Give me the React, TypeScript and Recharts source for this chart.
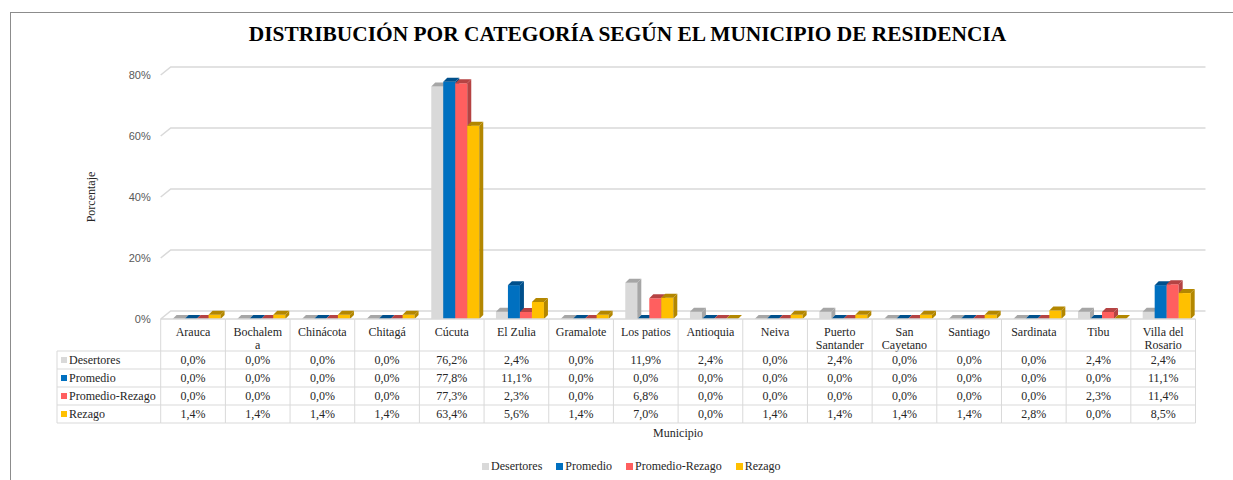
import { BarChart, Bar, XAxis, YAxis, CartesianGrid, Label } from 'recharts';

const categories = [
    'Arauca', 'Bochalema', 'Chinácota', 'Chitagá', 'Cúcuta', 'El Zulia', 'Gramalote', 'Los patios',
    'Antioquia', 'Neiva', 'Puerto Santander', 'San Cayetano', 'Santiago', 'Sardinata', 'Tibu', 'Villa del Rosario',
];

// how the header cells wrap in the table
const headerLines = [
    ['Arauca'], ['Bochalem', 'a'], ['Chinácota'], ['Chitagá'], ['Cúcuta'], ['El Zulia'], ['Gramalote'], ['Los patios'],
    ['Antioquia'], ['Neiva'], ['Puerto', 'Santander'], ['San', 'Cayetano'], ['Santiago'], ['Sardinata'], ['Tibu'], ['Villa del', 'Rosario'],
];

const desertores = [0, 0, 0, 0, 76.2, 2.4, 0, 11.9, 2.4, 0, 2.4, 0, 0, 0, 2.4, 2.4];
const promedio = [0, 0, 0, 0, 77.8, 11.1, 0, 0, 0, 0, 0, 0, 0, 0, 0, 11.1];
const promedioRezago = [0, 0, 0, 0, 77.3, 2.3, 0, 6.8, 0, 0, 0, 0, 0, 0, 2.3, 11.4];
const rezago = [1.4, 1.4, 1.4, 1.4, 63.4, 5.6, 1.4, 7.0, 0, 1.4, 1.4, 1.4, 1.4, 2.8, 0, 8.5];

const yTicks = [0, 20, 40, 60, 80];

const series = [
    { key: 'Desertores', values: desertores, fill: '#d9d9d9', dark: '#a6a6a6' },
    { key: 'Promedio', values: promedio, fill: '#0070c0', dark: '#00508c' },
    { key: 'Promedio-Rezago', values: promedioRezago, fill: '#ff5f5f', dark: '#b54343' },
    { key: 'Rezago', values: rezago, fill: '#ffc000', dark: '#b38700' },
];

const data = categories.map((name, i) => {
    const row: any = { name };
    series.forEach(s => { row[s.key] = s.values[i]; });
    return row;
});

const W = 1233;
const H = 480;
const PLOT_LEFT = 160.7;
const PLOT_RIGHT = 1195.5;
const PLOT_TOP = 75;
const PLOT_BOTTOM = 319;
const BAND = (PLOT_RIGHT - PLOT_LEFT) / categories.length;
const HEADER_H = 31;
const ROW_H = 18;
const LEGEND_LEFT = 57;
const DEPTH = 4;
const BORDER = '#d9d9d9';
const TEXT = '#262626';
const SERIF = '"Liberation Serif", "Times New Roman", serif';

const fmt = (v: number) => v.toFixed(1).replace('.', ',') + '%';

const makeShape = (fill: string, dark: string) => (props: any) => {
    const { y, width, height } = props;
    const x = props.x + 3;
    const d = DEPTH;
    return (
        <g>
            <rect x={x} y={y} width={width} height={height} fill={fill} />
            <polygon points={`${x},${y} ${x + width},${y} ${x + width + d},${y - d} ${x + d},${y - d}`} fill={dark} />
            <polygon points={`${x + width},${y} ${x + width + d},${y - d} ${x + width + d},${y + height - d} ${x + width},${y + height}`} fill={dark} />
        </g>
    );
};

const gridLine = (props: any) => {
    const { x1, x2, y1 } = props;
    return (
        <polyline
            key={props.key}
            points={`${x1},${y1} ${x1 + 10},${y1 - 8} ${x2 + 10},${y1 - 8}`}
            fill="none"
            stroke={BORDER}
            strokeWidth={1.5}
        />
    );
};

const TableTick = (props: any) => {
    const { x, y, index } = props;
    const left = x - BAND / 2;
    const right = x + BAND / 2;
    const top = y;
    const rowsTop = top + HEADER_H + 1;
    const bottom = rowsTop + ROW_H * series.length;
    const lines = headerLines[index];
    return (
        <g fontFamily={SERIF} fontSize={12} fill={TEXT}>
            <line x1={left} y1={top} x2={left} y2={bottom} stroke={BORDER} />
            {index === categories.length - 1 && <line x1={right} y1={top} x2={right} y2={bottom} stroke={BORDER} />}
            <line x1={left} y1={top} x2={right} y2={top} stroke={BORDER} strokeWidth={1.5} />
            {lines.map((t, k) => (
                <text key={k} x={x} y={top + 17 + k * 13} textAnchor="middle">{t}</text>
            ))}
            {series.map((s, r) => (
                <g key={s.key}>
                    <line x1={left} y1={rowsTop + r * ROW_H} x2={right} y2={rowsTop + r * ROW_H} stroke={BORDER} />
                    <text x={x} y={rowsTop + r * ROW_H + 13} textAnchor="middle">{fmt(s.values[index])}</text>
                </g>
            ))}
            <line x1={left} y1={bottom} x2={right} y2={bottom} stroke={BORDER} />
            {index === 0 && (
                <g>
                    <line x1={LEGEND_LEFT} y1={rowsTop} x2={LEGEND_LEFT} y2={bottom} stroke={BORDER} />
                    {series.map((s, r) => (
                        <g key={s.key}>
                            <line x1={LEGEND_LEFT} y1={rowsTop + r * ROW_H} x2={left} y2={rowsTop + r * ROW_H} stroke={BORDER} />
                            <rect x={LEGEND_LEFT + 4} y={rowsTop + r * ROW_H + 6} width={6} height={6} fill={s.fill} />
                            <text x={LEGEND_LEFT + 12} y={rowsTop + r * ROW_H + 13}>{s.key}</text>
                        </g>
                    ))}
                    <line x1={LEGEND_LEFT} y1={bottom} x2={left} y2={bottom} stroke={BORDER} />
                </g>
            )}
        </g>
    );
};

export default function App() {
    return (
        <div style={{ position: 'absolute', left: 0, top: 0, width: W, height: H, overflow: 'hidden', background: '#fff', fontFamily: SERIF }}>
            <div style={{ position: 'absolute', left: 10, top: 12, width: W, height: H, borderLeft: '1px solid #8c8c8c', borderTop: '1px solid #8c8c8c' }} />
            <div style={{ position: 'absolute', left: 0, top: 22, width: 1255, textAlign: 'center', fontWeight: 'bold', fontSize: 21.4, color: '#000' }}>
                DISTRIBUCIÓN POR CATEGORÍA SEGÚN EL MUNICIPIO DE RESIDENCIA
            </div>
            <div style={{ position: 'absolute', left: 0, top: 0 }}>
                <BarChart
                    width={W}
                    height={H}
                    data={data}
                    margin={{ top: PLOT_TOP, right: W - PLOT_RIGHT, left: 0, bottom: 0 }}
                    barCategoryGap="13.7%"
                    barGap={0}
                >
                    <CartesianGrid vertical={false} horizontal={gridLine} />
                    <XAxis
                        dataKey="name"
                        interval={0}
                        height={H - PLOT_BOTTOM}
                        axisLine={false}
                        tickLine={false}
                        tickSize={0}
                        tickMargin={0}
                        tick={TableTick}
                    >
                        <Label value="Municipio" position="insideTop" offset={109} fontFamily={SERIF} fontSize={12} fill={TEXT} />
                    </XAxis>
                    <YAxis
                        width={PLOT_LEFT}
                        domain={[0, 80]}
                        ticks={yTicks}
                        tickFormatter={(v: number) => `${v}%`}
                        axisLine={false}
                        tickLine={false}
                        tickSize={0}
                        tickMargin={10}
                        tick={{ fontFamily: '"Liberation Sans", Arial, sans-serif', fontSize: 11, fill: '#595959' }}
                    >
                        <Label value="Porcentaje" angle={-90} position="center" dx={10} fontFamily={SERIF} fontSize={12} fill={TEXT} />
                    </YAxis>
                    {series.map(s => (
                        <Bar key={s.key} dataKey={s.key} fill={s.fill} isAnimationActive={false} shape={makeShape(s.fill, s.dark)} />
                    ))}
                </BarChart>
            </div>
            <div style={{ position: 'absolute', left: 482, top: 459, display: 'flex', gap: 14, fontSize: 12, color: TEXT, whiteSpace: 'nowrap' }}>
                {series.map(s => (
                    <div key={s.key} style={{ display: 'flex', alignItems: 'center' }}>
                        <span style={{ display: 'inline-block', width: 7, height: 7, background: s.fill, marginRight: 2 }} />
                        <span>{s.key}</span>
                    </div>
                ))}
            </div>
        </div>
    );
}
